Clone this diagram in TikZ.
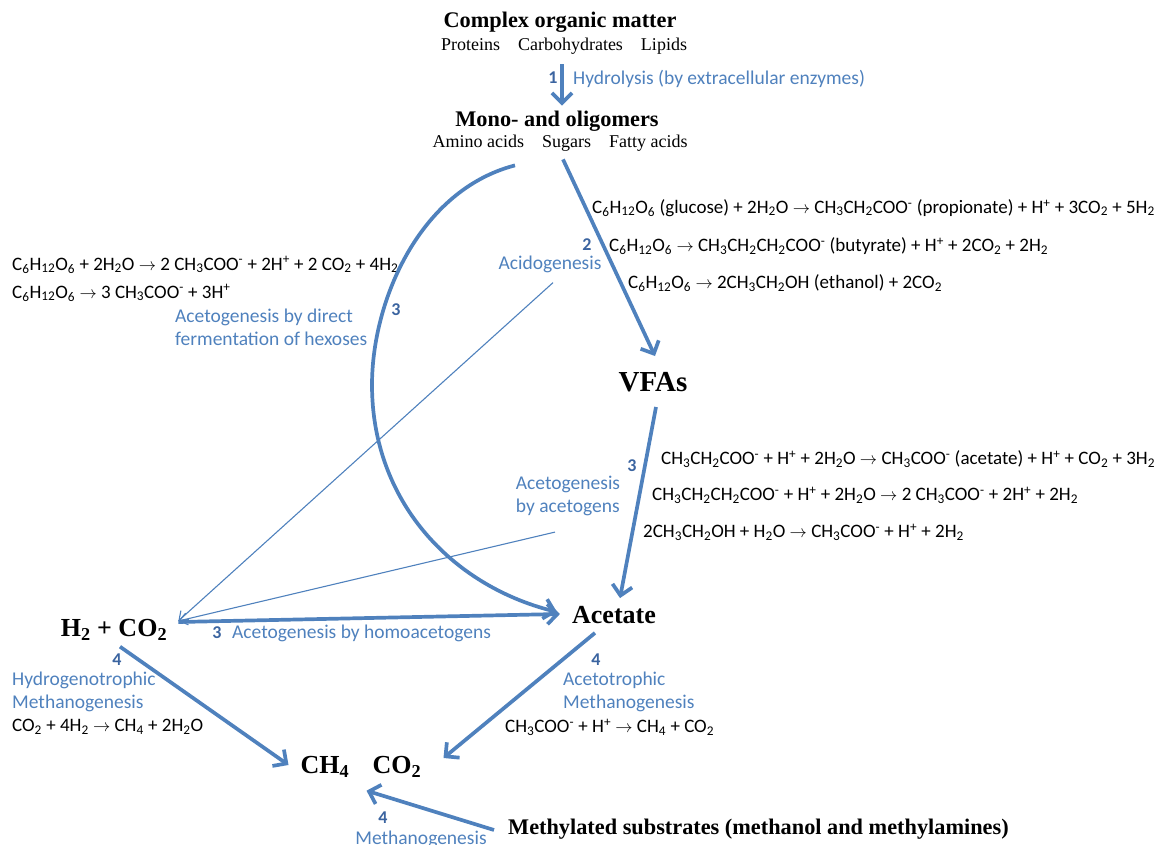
\documentclass[tikz,border=0pt]{standalone}
\usepackage{fontspec}
\setmainfont{Liberation Serif}
\newfontfamily\calibri{Carlito}
\usepackage{tikz}
\usepackage{xcolor}
\usetikzlibrary{calc}
\usetikzlibrary{positioning}
\usetikzlibrary{arrows.meta}

\definecolor{flowblue}{HTML}{4F81BD}
\definecolor{numblue}{HTML}{3B64A0}

\newcommand{\chsub}[1]{\textsubscript{#1}}
\newcommand{\chsup}[1]{\textsuperscript{#1}}
\newcommand{\yields}{$\rightarrow$}

\begin{document}
\begin{tikzpicture}[x=1pt,y=-1pt,
	title/.style={font=\bfseries\fontsize{22.3}{24}\selectfont, inner sep=0pt},
	big/.style={font=\bfseries\fontsize{26}{28}\selectfont, inner sep=0pt},
	subs/.style={font=\fontsize{18}{20}\selectfont, inner sep=0pt},
	chem/.style={font=\calibri\fontsize{19}{22}\selectfont, anchor=west, inner sep=0pt},
	stage/.style={font=\calibri\fontsize{19.5}{23}\selectfont, text=flowblue, inner sep=0pt},
	num/.style={font=\calibri\bfseries\fontsize{18}{20}\selectfont, text=numblue, inner sep=0pt},
	flow/.style={draw=flowblue, line width=3.7pt, -{Straight Barb[length=10pt,width=20pt]}},
	thinflow/.style={draw=flowblue, line width=1.1pt, -{Straight Barb[length=8pt,width=12pt]}}]

\useasboundingbox (0,0) rectangle (1168,845);

% substrates and products
\node[title] (com) at (560,22) {Complex organic matter};
\node[subs] (comsub) at (564,46) {Proteins\quad Carbohydrates\quad Lipids};
\node[title] (mono) at (557,121) {Mono- and oligomers};
\node[subs] (monosub) at (560,143) {Amino acids\quad Sugars\quad Fatty acids};
\node[font=\bfseries\fontsize{29}{30}\selectfont, inner sep=0pt] (vfa) at (653,382) {VFAs};
\node[big] (acet) at (614,615) {Acetate};
\node[big] (hco) at (114,630) {H\chsub{2} + CO\chsub{2}};
\node[big] (ch4) at (325,767) {CH\chsub{4}};
\node[big] (co2) at (397,767) {CO\chsub{2}};
\node[title, anchor=west] (methyl) at (508,829) {Methylated substrates (methanol and methylamines)};

% steps
\node[num] (n1) at (553,78) {1};
\node[stage, anchor=west] (hydro) at (573,79) {Hydrolysis (by extracellular enzymes)};
\node[num] (n2) at (587,245) {2};
\node[stage] (acido) at (550,264) {Acidogenesis};
\node[num] (n3a) at (396,310) {3};
\node[stage, align=left, anchor=west] (direct) at (175,327) {Acetogenesis by direct\\fermentation of hexoses};
\node[num] (n3b) at (632,466) {3};
\node[stage, align=left] (acetogens) at (568,496) {Acetogenesis\\by acetogens};
\node[num] (n3c) at (217,633) {3};
\node[stage, anchor=west] (homo) at (232,633) {Acetogenesis by homoacetogens};
\node[num] (n4a) at (117,660) {4};
\node[stage, align=left, anchor=north west] (hydrog) at (12,672) {Hydrogenotrophic\\Methanogenesis};
\node[num] (n4b) at (596,660) {4};
\node[stage, align=left, anchor=north west] (acetotr) at (563,672) {Acetotrophic\\Methanogenesis};
\node[num] (n4c) at (383,818) {4};
\node[stage] (methano) at (421,839) {Methanogenesis};

% reactions
\node[chem] (eqa1) at (592,208) {C\chsub{6}H\chsub{12}O\chsub{6} (glucose) + 2H\chsub{2}O \yields{} CH\chsub{3}CH\chsub{2}COO\chsup{-} (propionate) + H\chsup{+} + 3CO\chsub{2} + 5H\chsub{2}};
\node[chem] (eqa2) at (609,246) {C\chsub{6}H\chsub{12}O\chsub{6} \yields{} CH\chsub{3}CH\chsub{2}CH\chsub{2}COO\chsup{-} (butyrate) + H\chsup{+} + 2CO\chsub{2} + 2H\chsub{2}};
\node[chem] (eqa3) at (628,283) {C\chsub{6}H\chsub{12}O\chsub{6} \yields{} 2CH\chsub{3}CH\chsub{2}OH (ethanol) + 2CO\chsub{2}};
\node[chem] (eqd1) at (12,265) {C\chsub{6}H\chsub{12}O\chsub{6} + 2H\chsub{2}O \yields{} 2 CH\chsub{3}COO\chsup{-} + 2H\chsup{+} + 2 CO\chsub{2} + 4H\chsub{2}};
\node[chem] (eqd2) at (12,293) {C\chsub{6}H\chsub{12}O\chsub{6} \yields{} 3 CH\chsub{3}COO\chsup{-} + 3H\chsup{+}};
\node[chem] (eqb1) at (661,459) {CH\chsub{3}CH\chsub{2}COO\chsup{-} + H\chsup{+} + 2H\chsub{2}O \yields{} CH\chsub{3}COO\chsup{-} (acetate) + H\chsup{+} + CO\chsub{2} + 3H\chsub{2}};
\node[chem] (eqb2) at (652,495) {CH\chsub{3}CH\chsub{2}CH\chsub{2}COO\chsup{-} + H\chsup{+} + 2H\chsub{2}O \yields{} 2 CH\chsub{3}COO\chsup{-} + 2H\chsup{+} + 2H\chsub{2}};
\node[chem] (eqb3) at (643,532) {2CH\chsub{3}CH\chsub{2}OH + H\chsub{2}O \yields{} CH\chsub{3}COO\chsup{-} + H\chsup{+} + 2H\chsub{2}};
\node[chem] (eqh) at (12,727) {CO\chsub{2} + 4H\chsub{2} \yields{} CH\chsub{4} + 2H\chsub{2}O};
\node[chem] (eqm) at (505,727) {CH\chsub{3}COO\chsup{-} + H\chsup{+} \yields{} CH\chsub{4} + CO\chsub{2}};

% arrows
\draw[flow] ($(comsub.south)+(-2,10)$) -- ($(mono.north)+(5,-5)$);
\draw[flow] ($(monosub.south)+(3,8)$) -- ($(vfa.north)+(2,-16)$);
\draw[flow] ($(vfa.south)+(3,15)$) -- ($(acet.north)+(6,-8)$);
\coordinate (bend) at (372,385);
\draw[flow] ($(monosub.south)+(-45,14)$) .. controls (420,190) and (372,300) .. (bend)
	.. controls (372,500) and (450,585) .. ($(acet.west)+(-15,-3)$);
\draw[flow] ($(hco.east)+(11,-8)$) -- ($(acet.west)+(-12,-1)$);
\draw[thinflow] ($(acido.south)+(3,10)$) -- ($(hco.east)+(11,-9)$);
\draw[thinflow] ($(acetogens.south)+(-13,16)$) -- ($(hco.east)+(11,-9)$);
\draw[flow] ($(hco.south)+(6,6)$) -- ($(ch4.west)+(-12,-2)$);
\draw[flow] ($(acet.south)+(-19,9)$) -- ($(co2.east)+(22,-9)$);
\draw[flow] ($(methyl.west)+(-14,1)$) -- ($(ch4.south east)+(17,13)$);

\end{tikzpicture}
\end{document}
